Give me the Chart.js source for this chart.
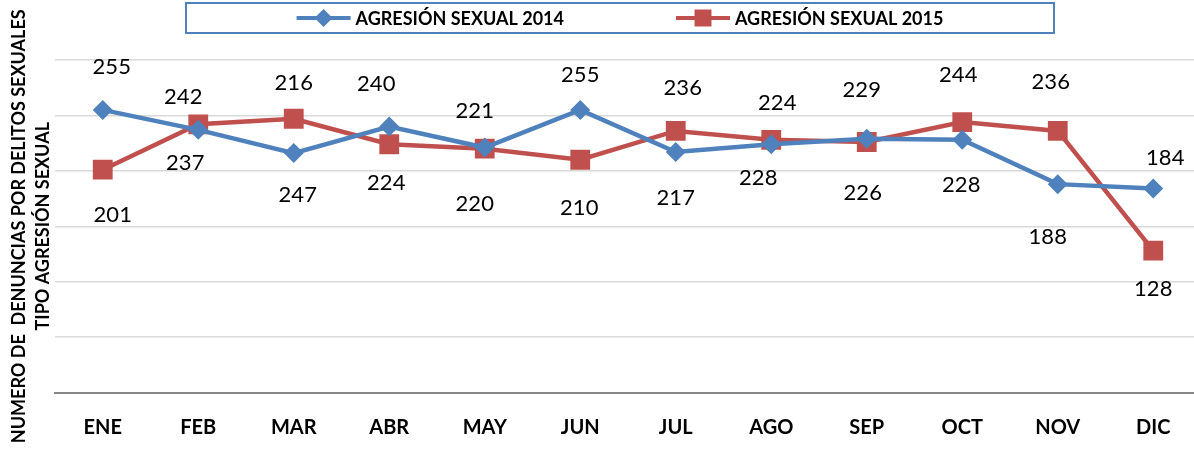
<!DOCTYPE html>
<html>
<head>
<meta charset="utf-8">
<script src="https://cdn.jsdelivr.net/npm/chart.js@4/dist/chart.umd.min.js"></script>
<style>
  html, body { margin: 0; padding: 0; background: #fff; overflow: hidden; }
  #wrap { width: 1215px; height: 451px; }
</style>
</head>
<body>
<div id="wrap"><canvas id="chart" width="1215" height="451"></canvas></div>
<script>
// datos
const months = ['ENE', 'FEB', 'MAR', 'ABR', 'MAY', 'JUN', 'JUL', 'AGO', 'SEP', 'OCT', 'NOV', 'DIC'];
const agresion2014 = [255, 237, 216, 240, 221, 255, 217, 224, 229, 228, 188, 184];
const agresion2015 = [201, 242, 247, 224, 220, 210, 236, 228, 226, 244, 236, 128];
const seriesNames = ['AGRESIÓN SEXUAL 2014', 'AGRESIÓN SEXUAL 2015'];
const yMin = 0, yMax = 300, yStep = 50;
const yTitle = ['NUMERO DE  DENUNCIAS POR DELITOS SEXUALES', 'TIPO AGRESIÓN SEXUAL'];

// where each value label sits, relative to its point (px)
const labelShift2014 = [[9, -43], [-13, 33], [0, -70], [-13, -43], [-10, -37], [0, -35],
                        [0, 46], [6, -41], [-5, -49], [-1, 45], [-10, 53], [12, -31]];
const labelShift2015 = [[10, 45], [-15, -27], [4, 76], [-3, 39], [-10, 55], [-1, 48],
                        [7, -43], [-13, 38], [-4, 51], [-4, -47], [-7, -49], [0, 38]];

const BLUE = '#4F81BD';
const RED = '#C0504D';

function marker(ctx, style, x, y, r, color) {
  ctx.fillStyle = color;
  ctx.beginPath();
  if (style === 'rectRot') {
    ctx.moveTo(x, y - r); ctx.lineTo(x + r, y); ctx.lineTo(x, y + r); ctx.lineTo(x - r, y);
    ctx.closePath();
  } else {
    const s = r * Math.SQRT1_2;
    ctx.rect(x - s, y - s, 2 * s, 2 * s);
  }
  ctx.fill();
}

// numbers next to the points
const valueLabels = {
  id: 'valueLabels',
  afterDatasetsDraw(chart) {
    const ctx = chart.ctx;
    const shifts = [labelShift2014, labelShift2015];
    ctx.save();
    ctx.font = '22px Lato';
    ctx.fillStyle = '#000';
    ctx.textAlign = 'center';
    ctx.textBaseline = 'middle';
    chart.data.datasets.forEach((ds, i) => {
      chart.getDatasetMeta(i).data.forEach((pt, j) => {
        const d = shifts[i][j];
        ctx.fillText(ds.data[j], pt.x + d[0], pt.y + d[1]);
      });
    });
    ctx.restore();
  }
};

// boxed legend on top, centred on the plot
const boxLegend = {
  id: 'boxLegend',
  afterDraw(chart) {
    const ctx = chart.ctx;
    const area = chart.chartArea;
    const cx = (area.left + area.right) / 2 - 8;
    const cy = 18;
    ctx.save();
    ctx.strokeStyle = BLUE;
    ctx.lineWidth = 2;
    ctx.strokeRect(cx - 434, 3, 868, 30);

    ctx.font = 'bold 18px Lato';
    ctx.textBaseline = 'middle';
    ctx.textAlign = 'left';
    const sym = 54, gap = 5, between = 112;
    const ds = chart.data.datasets;
    const widths = ds.map(d => ctx.measureText(d.label).width);
    const total = ds.length * (sym + gap) + widths.reduce((a, b) => a + b, 0) + between * (ds.length - 1);
    let x = cx - total / 2;
    ds.forEach((d, i) => {
      ctx.strokeStyle = d.borderColor;
      ctx.lineWidth = 4;
      ctx.beginPath();
      ctx.moveTo(x, cy);
      ctx.lineTo(x + sym, cy);
      ctx.stroke();
      marker(ctx, d.pointStyle, x + sym / 2, cy, d.pointStyle === 'rect' ? 12 : 9, d.backgroundColor);
      ctx.fillStyle = '#000';
      ctx.fillText(d.label, x + sym + gap, cy + 1);
      x += sym + gap + widths[i] + between;
    });
    ctx.restore();
  }
};

new Chart(document.getElementById('chart'), {
  type: 'line',
  data: {
    labels: months,
    datasets: [
      {
        label: seriesNames[0],
        data: agresion2014,
        borderColor: BLUE,
        backgroundColor: BLUE,
        borderWidth: 4.5,
        pointStyle: 'rectRot',
        pointRadius: 10,
        pointBorderWidth: 0,
        pointBackgroundColor: BLUE,
        tension: 0
      },
      {
        label: seriesNames[1],
        data: agresion2015,
        borderColor: RED,
        backgroundColor: RED,
        borderWidth: 4.5,
        pointStyle: 'rect',
        pointRadius: 14,
        pointBorderWidth: 0,
        pointBackgroundColor: RED,
        tension: 0
      }
    ]
  },
  options: {
    responsive: false,
    animation: false,
    devicePixelRatio: 1,
    layout: { padding: { top: 60, right: 0, bottom: -12.5, left: 0 } },
    plugins: {
      legend: { display: false },
      tooltip: { enabled: false }
    },
    scales: {
      x: {
        offset: true,
        grid: { display: false, drawTicks: false },
        border: { display: true, color: '#878787', width: 2 },
        ticks: {
          color: '#000',
          padding: 23.5,
          font: { family: 'Lato', weight: 'bold', size: 20, lineHeight: 1.2 }
        }
      },
      y: {
        min: yMin,
        max: yMax,
        grid: { color: '#d9d9d9', lineWidth: 1.5, drawTicks: false },
        border: { display: false },
        ticks: { display: false, stepSize: yStep },
        title: {
          display: true,
          text: yTitle,
          color: '#000',
          padding: { top: 7, bottom: 0 },
          font: { family: 'Lato', weight: 'bold', size: 18, lineHeight: 24 / 18 }
        }
      }
    }
  },
  plugins: [valueLabels, boxLegend]
});
</script>
</body>
</html>
